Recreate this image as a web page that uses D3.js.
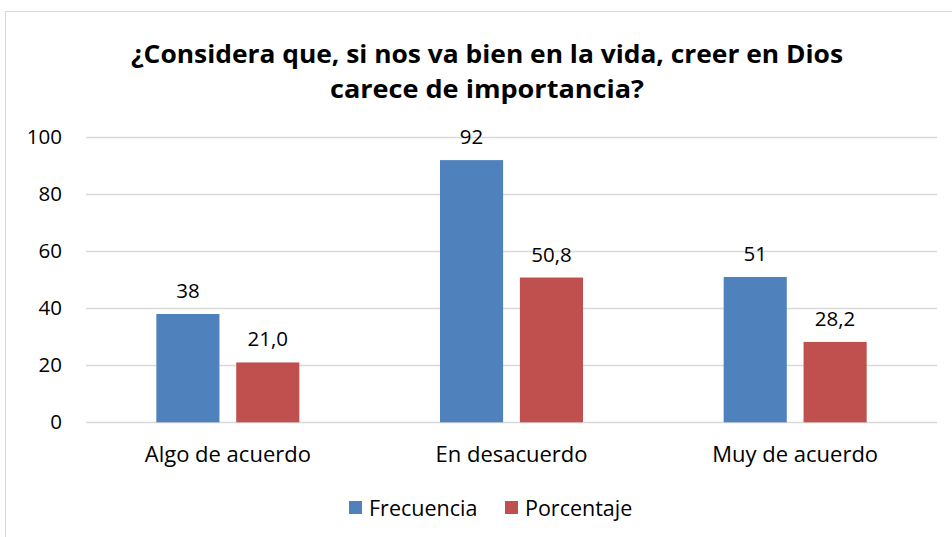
<!DOCTYPE html>
<html><head><meta charset="utf-8">
<script src="https://cdn.jsdelivr.net/npm/d3@7"></script>
<style>body{margin:0;background:#fff}svg{display:block}</style>
</head><body>
<script>
const categories = ["Algo de acuerdo", "En desacuerdo", "Muy de acuerdo"];
const seriesNames = ["Frecuencia", "Porcentaje"];
const frecuencia = [38, 92, 51];
const porcentaje = [21.0, 50.8, 28.2];
const yTicks = [0, 20, 40, 60, 80, 100];
const colors = ["#4F81BD", "#C0504D"];
const titleLines = ["¿Considera que, si nos va bien en la vida, creer en Dios", "carece de importancia?"];

const W = 952, H = 537;
const svg = d3.select("body").append("svg").attr("width", W).attr("height", H);
const font = "'Open Sans', 'Noto Sans', sans-serif";

svg.append("rect").attr("x", 5.5).attr("y", 11.5).attr("width", 960).attr("height", 540)
  .attr("fill", "#fff").attr("stroke", "#d9d9d9").attr("stroke-width", 1);

const m = {left: 86, right: 937, top: 137.3, bottom: 422.3};
const x0 = d3.scaleBand().domain(categories).range([m.left, m.right]).paddingInner(0).paddingOuter(0);
const x1 = d3.scaleBand().domain(seriesNames).range([0, 143]).paddingInner(0.21);
const y = d3.scaleLinear().domain([0, 100]).range([m.bottom, m.top]);

// grid
svg.append("g").selectAll("line").data(yTicks).join("line")
  .attr("x1", m.left).attr("x2", m.right)
  .attr("y1", d => Math.round(y(d)) + 0.5).attr("y2", d => Math.round(y(d)) + 0.5)
  .attr("stroke", "#d9d9d9").attr("stroke-width", 1.3);

// y labels
svg.append("g").selectAll("text").data(yTicks).join("text")
  .attr("x", 62).attr("y", d => y(d) + 7).attr("text-anchor", "end")
  .attr("font-family", font).attr("font-size", 20.5).attr("fill", "#000").text(d => d);

// bars
const data = categories.map((c, i) => ({c, vals: [frecuencia[i], porcentaje[i]]}));
const g = svg.append("g");
data.forEach(d => {
  const cx = x0(d.c) + x0.bandwidth() / 2 - 71.5;
  d.vals.forEach((v, j) => {
    const bx = cx + x1(seriesNames[j]);
    g.append("rect").attr("x", bx).attr("y", y(v)).attr("width", x1.bandwidth())
      .attr("height", y(0) - y(v)).attr("fill", colors[j]);
    g.append("text").attr("x", bx + x1.bandwidth() / 2).attr("y", y(v) - 16)
      .attr("text-anchor", "middle").attr("font-family", font).attr("font-size", 20.5)
      .attr("fill", "#000").text(j === 0 ? String(v) : v.toFixed(1).replace(".", ","));
  });
  svg.append("text").attr("x", x0(d.c) + x0.bandwidth() / 2).attr("y", 462)
    .attr("text-anchor", "middle").attr("font-family", font).attr("font-size", 22)
    .attr("fill", "#000").text(d.c);
});

// title
const tl = [712, 314];
titleLines.forEach((t, i) => {
  svg.append("text").attr("x", 487).attr("y", 63 + i * 35).attr("text-anchor", "middle")
    .attr("font-family", font).attr("font-weight", "bold").attr("font-size", 25)
    .attr("textLength", tl[i]).attr("lengthAdjust", "spacingAndGlyphs")
    .attr("fill", "#000").text(t);
});

// legend
const legX = [349, 505];
seriesNames.forEach((s, i) => {
  svg.append("rect").attr("x", legX[i]).attr("y", 501).attr("width", 13).attr("height", 13).attr("fill", colors[i]);
  svg.append("text").attr("x", legX[i] + 20).attr("y", 516).attr("font-family", font)
    .attr("font-size", 21.5).attr("fill", "#000").text(s);
});
</script>
</body></html>
